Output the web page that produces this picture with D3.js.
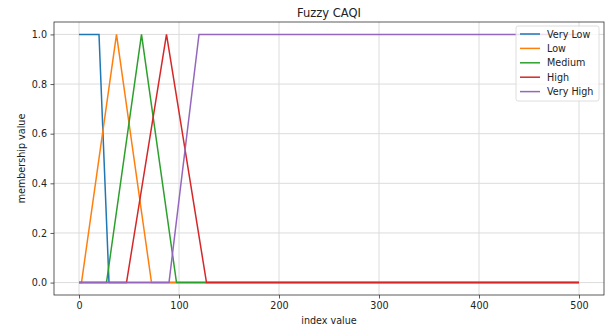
<!DOCTYPE html>
<html>
<head>
<meta charset="utf-8">
<script src="https://cdn.jsdelivr.net/npm/d3@7"></script>
<style>
body { margin: 0; background: #fff; }
text { font-family: "DejaVu Sans", sans-serif; fill: #222; }
</style>
</head>
<body>
<svg width="608" height="327"></svg>
<script>
var svg = d3.select('svg');

// membership function breakpoints (index value, membership)
var names = ['Very Low', 'Low', 'Medium', 'High', 'Very High'];
var colors = ['#1f77b4', '#ff7f0e', '#2ca02c', '#d62728', '#9467bd'];
var veryLow = [[0, 1], [20, 1], [30, 0], [500, 0]];
var low = [[0, 0], [2.5, 0], [37.5, 1], [72.5, 0], [500, 0]];
var medium = [[0, 0], [27.5, 0], [62.5, 1], [97.5, 0], [500, 0]];
var high = [[0, 0], [47.5, 0], [87.5, 1], [127.5, 0], [500, 0]];
var veryHigh = [[0, 0], [90, 0], [120, 1], [500, 1]];
var series = [veryLow, low, medium, high, veryHigh];

var xTicks = [0, 100, 200, 300, 400, 500];
var yTicks = [0, 0.2, 0.4, 0.6, 0.8, 1.0];

var pLeft = 54, pRight = 604, pTop = 22, pBottom = 295;

var x = d3.scaleLinear().domain([-25, 525]).range([pLeft, pRight]);
var y = d3.scaleLinear().domain([-0.05, 1.05]).range([pBottom, pTop]);

// grid
svg.selectAll('.gx')
    .data(xTicks).enter()
    .append('line')
    .attr('x1', function(d){ return x(d) })
    .attr('x2', function(d){ return x(d) })
    .attr('y1', pTop)
    .attr('y2', pBottom)
    .attr('stroke', '#dcdcdc')
    .attr('stroke-width', 1);

svg.selectAll('.gy')
    .data(yTicks).enter()
    .append('line')
    .attr('y1', function(d){ return y(d) })
    .attr('y2', function(d){ return y(d) })
    .attr('x1', pLeft)
    .attr('x2', pRight)
    .attr('stroke', '#dcdcdc')
    .attr('stroke-width', 1);

// lines
var line = d3.line()
    .x(function(d){ return x(d[0]) })
    .y(function(d){ return y(d[1]) });

svg.selectAll('.mf')
    .data(series).enter()
    .append('path')
    .attr('d', line)
    .attr('fill', 'none')
    .attr('stroke', function(d, i){ return colors[i] })
    .attr('stroke-width', 1.5);

// axes
var xAxis = svg.append('g')
    .attr('transform', 'translate(0,' + pBottom + ')')
    .call(d3.axisBottom(x).tickValues(xTicks).tickSize(3.5).tickPadding(3.5).tickFormat(d3.format('d')));
var yAxis = svg.append('g')
    .attr('transform', 'translate(' + pLeft + ',0)')
    .call(d3.axisLeft(y).tickValues(yTicks).tickSize(3.5).tickPadding(3.5).tickFormat(d3.format('.1f')));

[xAxis, yAxis].forEach(function(a){
    a.select('.domain').remove();
    a.selectAll('line').attr('stroke', '#333').attr('stroke-width', 0.8);
    a.selectAll('text').attr('font-size', 9.6).attr('font-family', 'DejaVu Sans').attr('fill', '#222');
});

// frame
svg.append('rect')
    .attr('x', pLeft)
    .attr('y', pTop)
    .attr('width', pRight - pLeft)
    .attr('height', pBottom - pTop)
    .attr('fill', 'none')
    .attr('stroke', '#333')
    .attr('stroke-width', 0.8);

// title and labels
svg.append('text')
    .attr('x', (pLeft + pRight) / 2)
    .attr('y', 17)
    .attr('text-anchor', 'middle')
    .attr('font-size', 11.5)
    .text('Fuzzy CAQI');

svg.append('text')
    .attr('x', (pLeft + pRight) / 2)
    .attr('y', 324)
    .attr('text-anchor', 'middle')
    .attr('font-size', 9.6)
    .text('index value');

svg.append('text')
    .attr('transform', 'translate(25,' + ((pTop + pBottom) / 2) + ') rotate(-90)')
    .attr('text-anchor', 'middle')
    .attr('font-size', 9.6)
    .text('membership value');

// legend
var legend = svg.append('g');
legend.append('rect')
    .attr('x', 516)
    .attr('y', 26)
    .attr('width', 83)
    .attr('height', 75)
    .attr('rx', 2)
    .attr('fill', 'rgba(255,255,255,0.8)')
    .attr('stroke', '#d6d6d6')
    .attr('stroke-width', 0.8);

var items = legend.selectAll('.item')
    .data(names).enter()
    .append('g')
    .attr('transform', function(d, i){ return 'translate(0,' + (34 + i * 14.4) + ')' });

items.append('line')
    .attr('x1', 520)
    .attr('x2', 540)
    .attr('y1', 0)
    .attr('y2', 0)
    .attr('stroke', function(d, i){ return colors[i] })
    .attr('stroke-width', 1.5);

items.append('text')
    .attr('x', 547)
    .attr('y', 3.5)
    .attr('font-size', 9.6)
    .text(function(d){ return d });
</script>
</body>
</html>
